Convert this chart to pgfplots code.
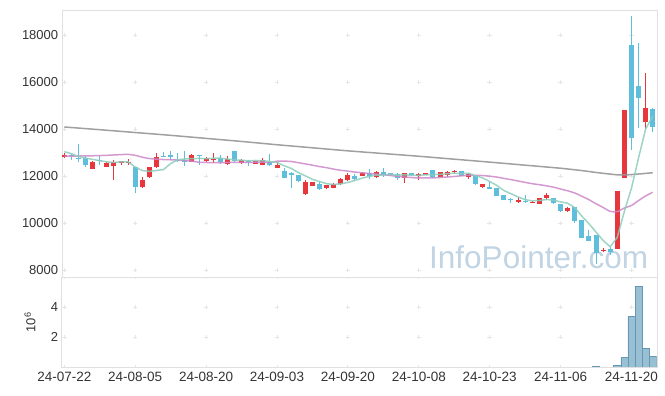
\documentclass[border=0pt]{standalone}
\usepackage{fontspec}
\setmainfont{Liberation Sans}
\usepackage{pgfplots}
\usepackage{pgfplotstable}
\pgfplotsset{compat=1.18}
\definecolor{cRed}{RGB}{232,54,61}
\definecolor{cBlue}{RGB}{94,190,219}
\definecolor{cTeal}{RGB}{140,205,188}
\definecolor{cPink}{RGB}{204,136,200}
\definecolor{cGray}{RGB}{150,150,150}
\definecolor{cAxis}{RGB}{224,224,224}
\definecolor{cGrid}{RGB}{230,230,230}
\definecolor{cTxt}{RGB}{51,51,51}
\definecolor{cWM}{RGB}{192,212,228}
\definecolor{cVolF}{RGB}{152,192,210}
\definecolor{cVolD}{RGB}{100,152,182}

% up candles (red): index, open, high, low, close
\pgfplotstableread{
i O H L C
0 12820 12960 12750 12900
4 12310 12620 12300 12610
6 12400 12600 12390 12570
7 12440 12680 11830 12580
8 12540 12650 12480 12630
9 12570 12710 12470 12610
11 11520 11970 11500 11830
12 11940 12400 11930 12400
13 12370 12960 12360 12820
18 12610 12940 12600 12880
20 12650 12790 12610 12750
21 12670 12970 12540 12720
23 12520 12850 12480 12720
25 12550 12720 12510 12680
27 12520 12640 12510 12640
28 12460 12750 12450 12690
30 12330 12610 12320 12470
34 11220 11830 11190 11760
35 11590 11760 11560 11730
37 11470 11620 11440 11620
38 11500 11720 11470 11645
39 11645 11900 11620 11870
40 11830 12110 11800 12040
42 12000 12160 11990 12110
44 11940 12200 11900 12170
48 11930 12140 11720 12110
50 12010 12110 11830 12080
51 12060 12140 12050 12110
53 11970 12180 11940 12150
54 12050 12200 11970 12150
55 12160 12260 12090 12210
57 11970 12110 11890 12070
59 11550 11670 11475 11660
64 10880 11120 10840 10980
66 10870 10940 10840 10910
67 10820 11060 10810 11050
68 11060 11260 10980 11180
71 10510 10700 10470 10620
76 8830 8920 8780 8870
78 8900 11380 8890 11380
79 11930 14790 11930 14790
82 14310 16370 13990 14900
}\tRed

% down candles (blue): index, open, high, low, close
\pgfplotstableread{
i O H L C
1 12890 12940 12700 12830
2 12750 13360 12610 12710
3 12770 12850 12370 12480
5 12690 12860 12450 12630
10 12370 12380 11270 11520
14 12860 13040 12800 12800
15 12900 13080 12680 12800
16 12680 12960 12580 12630
17 12690 13080 12410 12580
19 12880 12890 12470 12840
22 12750 12890 12500 12580
24 13060 13070 12610 12650
26 12650 12680 12440 12610
29 12610 12940 12420 12460
31 12230 12330 11910 11920
32 12110 12180 11480 12030
33 12040 12050 11760 11800
36 11650 11760 11400 11450
41 12010 12070 11800 11870
43 12110 12280 11860 12000
45 12170 12330 11970 12060
46 12110 12140 12020 12030
47 12080 12110 11830 11900
49 12110 12140 12000 12030
52 12250 12260 11900 11970
56 12210 12230 12000 12000
58 12040 12060 11630 11645
60 11550 11745 11460 11460
61 11475 11480 11160 11163
62 11190 11200 10970 10980
63 11020 11050 10840 10965
65 10940 11190 10840 10880
69 11060 11070 10820 10850
70 10810 10820 10480 10510
72 10670 10680 10010 10100
73 10130 10140 9350 9380
74 9460 9700 9240 9250
75 9490 9500 8250 8710
77 8880 8960 8640 8750
80 17570 18810 13100 13630
81 15830 17650 14030 15310
83 14850 14900 13890 14100
}\tBlue

% 5-day moving average
\pgfplotstableread{
i v
0 13035
1 12950
2 12830
3 12760
4 12706
5 12652
6 12600
7 12574
8 12604
9 12602
10 12380
11 12232
12 12196
13 12234
14 12274
15 12530
16 12690
17 12726
18 12738
19 12748
20 12738
21 12756
22 12756
23 12724
24 12684
25 12670
26 12648
27 12660
28 12654
29 12616
30 12574
31 12436
32 12324
33 12146
34 12006
35 11858
36 11764
37 11672
38 11641
39 11663
40 11726
41 11810
42 11909
43 11980
44 12040
45 12042
46 12074
47 12031
48 12054
49 12025
50 12031
51 12048
52 12062
53 12071
54 12095
55 12120
56 12098
57 12117
58 12015
59 11917
60 11767
61 11600
62 11382
63 11246
64 11109
65 10993
66 10942
67 10956
68 10999
69 10973
70 10899
71 10842
72 10652
73 10292
74 9972
75 9611
76 9260
77 8988
78 9388
79 10496
80 11480
81 12772
82 14002
83 14546
}\tTeal

% 20-day moving average
\pgfplotstableread{
i v
0 12850
2 12850
4 12860
6 12880
8 12910
9 12920
10 12880
11 12800
12 12740
13 12720
14 12700
16 12680
18 12630
19 12583
20 12575
21 12570
22 12563
23 12575
24 12577
25 12580
26 12582
27 12585
28 12588
29 12581
30 12628
31 12633
32 12617
33 12566
34 12514
35 12460
36 12401
37 12353
38 12291
39 12242
40 12207
41 12165
42 12141
43 12105
44 12081
45 12050
46 12021
47 11984
48 11955
49 11934
50 11914
51 11924
52 11919
53 11936
54 11956
55 11980
56 12007
57 12030
58 12030
59 12019
60 11990
61 11955
62 11898
63 11846
64 11787
65 11728
66 11672
67 11629
68 11583
69 11524
70 11445
71 11371
72 11277
73 11138
74 10993
75 10818
76 10661
77 10495
78 10482
79 10638
80 10747
81 10954
82 11150
83 11307
}\tPink

% long moving average
\pgfplotstableread{
i v
0 14085
5 13970
10 13850
15 13730
20 13600
25 13470
30 13330
35 13200
40 13070
45 12955
50 12840
55 12715
60 12590
65 12460
70 12330
73 12230
75 12150
77 12080
78 12050
79 12045
80 12060
81 12085
82 12110
83 12140
}\tGray

% volume in millions
\pgfplotstableread{
i v
75 0.06
78 0.13
79 0.65
80 3.40
81 5.40
82 1.25
83 0.72
}\tVol

\begin{document}
\begin{tikzpicture}[x=1pt,y=1pt]
\useasboundingbox (0,0) rectangle (665,396);
\node[anchor=base west, text=cWM, font=\fontsize{31.5}{33}\selectfont, inner sep=0pt] at (429,127) {InfoPointer.com};
\pgfplotsset{common/.style={
  scale only axis, width=595pt,
  xmin=-0.37, xmax=83.56,
  axis line style={cAxis},
  major tick length=0pt,
  tick label style={font=\fontsize{13}{15}\selectfont, text=cTxt},
  xticklabel style={font=\fontsize{13.5}{15}\selectfont, yshift=-1.5pt},
  scaled y ticks=false,
  /pgf/number format/assume math mode=true,
  /pgf/number format/1000 sep={},
  xtick={0,10,...,80},
  grid=major,
  major grid style={cGrid, line width=0.8pt},
  y grid style={dash pattern=on 4.5pt off 66.39pt, dash phase=70.52pt},
  clip=true,
}}
\pgfplotsset{candle/.style={draw=none, mark=none, forget plot, error bars/.cd, y dir=plus, y explicit, error mark=none}}
\begin{axis}[common, at={(61.7pt,118.3pt)}, anchor=south west, height=267pt,
  ymin=7672, ymax=19034, ytick={8000,10000,...,18000}, xticklabels={},
  x grid style={dash pattern=on 4.5pt off 42.5pt, dash phase=41.55pt}]
\addplot[candle, error bar style={line width=1pt, draw=cRed}]
  table[x=i, y=L, y error expr=\thisrow{H}-\thisrow{L}] {\tRed};
\addplot[candle, error bar style={line width=1pt, draw=cBlue}]
  table[x=i, y=L, y error expr=\thisrow{H}-\thisrow{L}] {\tBlue};
\addplot[candle, error bar style={line width=5pt, draw=cRed}]
  table[x=i, y=O, y error expr=\thisrow{C}-\thisrow{O}] {\tRed};
\addplot[candle, error bar style={line width=5pt, draw=cBlue}]
  table[x=i, y=C, y error expr=\thisrow{O}-\thisrow{C}] {\tBlue};
\addplot[cGray, line width=1.5pt, mark=none, smooth, tension=0.4, opacity=0.9] table[x=i, y=v] {\tGray};
\addplot[cPink, line width=1.5pt, mark=none, smooth, tension=0.4, opacity=0.85] table[x=i, y=v] {\tPink};
\addplot[cTeal, line width=1.5pt, mark=none, opacity=0.85, line join=round] table[x=i, y=v] {\tTeal};
\end{axis}
\begin{axis}[common, at={(61.7pt,29pt)}, anchor=south west, height=89.3pt,
  ymin=0, ymax=6, ytick={2,4},
  x grid style={dash pattern=on 4.5pt off 25.5pt, dash phase=2.25pt},
  xticklabels={24-07-22,24-08-05,24-08-20,24-09-03,24-09-20,24-10-08,24-10-23,24-11-06,24-11-20},
  ylabel={10\textsuperscript{6}},
  ylabel style={at={(axis description cs:-0.0533,0.5)}, anchor=center, font=\fontsize{13}{15}\selectfont, text=cTxt}]
\addplot[ybar, bar width=1, bar shift=0pt, fill=cVolF, draw=cVolD, line width=0.6pt] table[x=i, y=v] {\tVol};
\end{axis}
\end{tikzpicture}
\end{document}
